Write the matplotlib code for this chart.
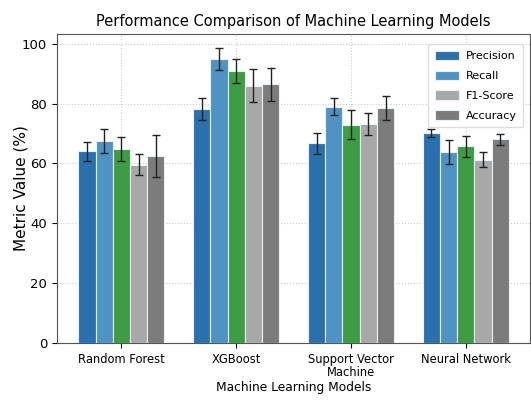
import numpy as np
import matplotlib
matplotlib.use("Agg")
from matplotlib import pyplot as plt

# data
models = ["Random Forest", "XGBoost", "Support Vector\nMachine", "Neural Network"]
precision = [64.0, 78.1, 66.8, 70.1]
precision_err = [3.3, 3.6, 3.5, 1.4]
recall = [67.6, 95.0, 79.0, 63.7]
recall_err = [4.0, 3.7, 2.7, 4.0]
extra = [64.7, 91.0, 73.0, 65.7]          # green bars, not in the legend
extra_err = [4.0, 4.0, 4.8, 3.5]
f1_score = [59.5, 86.0, 73.2, 61.3]
f1_err = [3.5, 5.6, 3.6, 2.5]
accuracy = [62.4, 86.4, 78.4, 68.0]
accuracy_err = [7.0, 5.6, 4.0, 1.7]

plt.rcParams['font.family'] = ['DejaVu Sans']

fig, ax = plt.subplots(figsize=(5.31, 4.03), dpi=100)
fig.subplots_adjust(left=0.107, right=0.999, top=0.916, bottom=0.149)

x = np.arange(len(models))
w = 0.15
series = [
    (precision, precision_err, "#2a70ad", "Precision"),
    (recall, recall_err, "#4f93c4", "Recall"),
    (extra, extra_err, "#3e9c45", "_nolegend_"),
    (f1_score, f1_err, "#a8a8a8", "F1-Score"),
    (accuracy, accuracy_err, "#7c7c7c", "Accuracy"),
]
for i, (vals, errs, col, lab) in enumerate(series):
    ax.bar(x + (i - 2) * w, vals, w, yerr=errs, color=col, label=lab,
           edgecolor="#e8f0f8", linewidth=0.8, capsize=3,
           error_kw=dict(ecolor="#222222", elinewidth=1.0, capthick=1.0), zorder=3)

ax.set_ylim(0, 103.3)
ax.set_xticks(x)
ax.set_xticklabels(models, fontsize=8.3, linespacing=1.0)
ax.tick_params(axis="y", labelsize=9.5)
ax.set_xlabel("Machine Learning Models", fontsize=8.8, labelpad=2)
ax.set_ylabel("Metric Value (%)", fontsize=11, labelpad=-5)
ax.set_title("Performance Comparison of Machine Learning Models", fontsize=10.5, pad=6)
ax.grid(True, linestyle=":", color="#cccccc", linewidth=0.8, zorder=0)
ax.set_axisbelow(True)
for s in ax.spines.values():
    s.set_color("#555555")
ax.legend(loc="upper right", fontsize=8, handlelength=2.2, handleheight=0.9,
          borderpad=0.6, labelspacing=0.85, handletextpad=0.6,
          framealpha=1.0, edgecolor="#dddddd", bbox_to_anchor=(0.997, 0.985))

plt.savefig("out.png", dpi=100)
